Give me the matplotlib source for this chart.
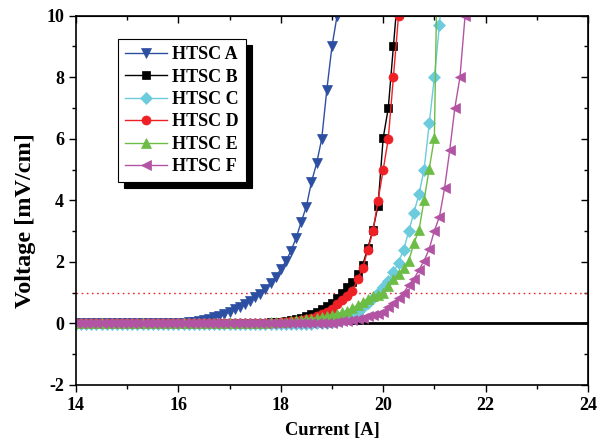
import numpy as np
import matplotlib
matplotlib.use('Agg')
import matplotlib.pyplot as plt
from matplotlib.ticker import MultipleLocator

plt.rcParams['font.family'] = ['Liberation Serif', 'DejaVu Serif']
plt.rcParams['font.weight'] = 'bold'
plt.rcParams['axes.unicode_minus'] = False  # 纵轴负号用 "-"

# 数据：电流步长 0.1 A，电压 mV/cm
cur_A = np.round(np.arange(14.0, 19.15, 0.1), 1)
volt_A = [0, 0, 0, 0, 0, 0, 0, 0, 0, 0,
          0, 0, 0, 0, 0, 0, 0, 0, 0, 0,
          0, 0.02, 0.04, 0.06, 0.09, 0.12, 0.16, 0.20, 0.25, 0.31,
          0.38, 0.46, 0.54, 0.63, 0.74, 0.85, 0.97, 1.12, 1.30, 1.52,
          1.76, 2.02, 2.36, 2.78, 3.30, 3.80, 4.60, 5.20, 6.00, 7.60,
          9.00, 10.00]

cur_B = np.round(np.arange(14.0, 20.35, 0.1), 1)
volt_B = [0, 0, 0, 0, 0, 0, 0, 0, 0, 0,
          0, 0, 0, 0, 0, 0, 0, 0, 0, 0,
          0, 0, 0, 0, 0, 0, 0, 0, 0, 0,
          0, 0, 0, 0, 0, 0.01, 0.02, 0.03, 0.04, 0.05,
          0.06, 0.08, 0.11, 0.14, 0.18, 0.23, 0.30, 0.38, 0.48, 0.57,
          0.68, 0.82, 0.98, 1.17, 1.36, 1.60, 1.90, 2.45, 3.04, 3.83,
          6.02, 7.00, 9.00, 11.00]

cur_C = np.round(np.arange(14.0, 21.25, 0.1), 1)
volt_C = [-0.03, -0.03, -0.03, -0.03, -0.03, -0.03, -0.03, -0.03, -0.03, -0.03,
          -0.03, -0.03, -0.03, -0.03, -0.03, -0.03, -0.03, -0.03, -0.03, -0.03,
          -0.03, -0.03, -0.03, -0.03, -0.03, -0.03, -0.03, -0.03, -0.03, -0.03,
          -0.03, -0.03, -0.03, -0.03, -0.03, -0.03, -0.03, -0.03, -0.03, -0.03,
          -0.03, -0.03, -0.03, -0.03, -0.03, -0.02, -0.01, 0.0, 0.01, 0.03,
          0.05, 0.08, 0.12, 0.18, 0.26, 0.38, 0.52, 0.66, 0.82, 1.00,
          1.17, 1.39, 1.66, 1.98, 2.40, 3.00, 3.60, 4.20, 5.00, 6.50,
          8.00, 9.70, 12.0]

cur_D = np.round(np.arange(14.0, 20.35, 0.1), 1)
volt_D = [0, 0, 0, 0, 0, 0, 0, 0, 0, 0,
          0, 0, 0, 0, 0, 0, 0, 0, 0, 0,
          0, 0, 0, 0, 0, 0, 0, 0, 0, 0,
          0, 0, 0, 0, 0, 0, 0.01, 0.01, 0.02, 0.03,
          0.04, 0.05, 0.07, 0.09, 0.12, 0.15, 0.19, 0.24, 0.30, 0.38,
          0.48, 0.62, 0.76, 0.90, 1.05, 1.44, 1.80, 2.39, 3.00, 3.99,
          4.99, 6.00, 8.00, 10.00]

cur_E = np.round(np.arange(14.0, 21.15, 0.1), 1)
volt_E = [0, 0, 0, 0, 0, 0, 0, 0, 0, 0,
          0, 0, 0, 0, 0, 0, 0, 0, 0, 0,
          0, 0, 0, 0, 0, 0, 0, 0, 0, 0,
          0, 0, 0, 0, 0, 0.01, 0.02, 0.03, 0.04, 0.04,
          0.05, 0.06, 0.08, 0.10, 0.12, 0.14, 0.16, 0.18, 0.21, 0.25,
          0.28, 0.32, 0.37, 0.42, 0.50, 0.60, 0.70, 0.80, 0.88, 0.94,
          1.00, 1.23, 1.44, 1.61, 1.80, 2.04, 2.60, 3.04, 4.01, 5.03,
          6.03, 16.0]

cur_F = np.round(np.arange(14.0, 21.65, 0.1), 1)
volt_F = [0, 0, 0, 0, 0, 0, 0, 0, 0, 0,
          0, 0, 0, 0, 0, 0, 0, 0, 0, 0,
          0, 0, 0, 0, 0, 0, 0, 0, 0, 0,
          0, 0, 0, 0, 0, 0, 0, 0, 0, 0,
          0, 0, 0, 0, 0, 0, 0.01, 0.01, 0.02, 0.02,
          0.03, 0.05, 0.07, 0.09, 0.12, 0.15, 0.19, 0.23, 0.27, 0.31,
          0.36, 0.52, 0.65, 0.83, 0.98, 1.26, 1.44, 1.74, 2.04, 2.42,
          3.01, 3.47, 4.40, 5.62, 7.00, 8.00, 10.00]

labels = ['HTSC A', 'HTSC B', 'HTSC C', 'HTSC D', 'HTSC E', 'HTSC F']

fig = plt.figure(figsize=(6.06, 4.41), dpi=100)
ax = fig.add_axes([0.1254, 0.127, 0.8448, 0.8374])

ax.axhline(0, color='black', lw=2, zorder=1)
ax.axhline(1, color='#e8262b', lw=1, ls=(0, (1.2, 2.5)), zorder=1)

ax.plot(cur_A, volt_A, '-v', color='#2d4fa2', lw=1, ms=7, mew=0.5, label=labels[0])
ax.plot(cur_B, volt_B, '-s', color='black', lw=1, ms=6, mew=0.5, label=labels[1])
ax.plot(cur_C, volt_C, '-D', color='#6ccbdc', lw=1, ms=6, mew=0.5, label=labels[2])
ax.plot(cur_D, volt_D, '-o', color='#ee2025', lw=1, ms=6.5, mew=0.5, label=labels[3])
ax.plot(cur_E, volt_E, '-^', color='#6cbd45', lw=1, ms=7, mew=0.5, label=labels[4])
ax.plot(cur_F, volt_F, '-<', color='#b353a4', lw=1, ms=7, mew=0.5, label=labels[5])

ax.set_xlim(14, 24)
ax.set_ylim(-2, 10)
ax.xaxis.set_major_locator(MultipleLocator(2))
ax.xaxis.set_minor_locator(MultipleLocator(1))
ax.yaxis.set_major_locator(MultipleLocator(2))
ax.yaxis.set_minor_locator(MultipleLocator(1))
ax.tick_params(which='major', direction='out', length=5, width=1, labelsize=13)
ax.tick_params(which='minor', direction='out', length=3, width=1)
for s in ax.spines.values():
    s.set_linewidth(1.2)

# 上、右两侧刻度朝内
top = ax.secondary_xaxis('top')
top.xaxis.set_major_locator(MultipleLocator(2))
top.xaxis.set_minor_locator(MultipleLocator(1))
top.tick_params(which='both', direction='in', labeltop=False, width=1)
top.tick_params(which='major', length=5)
top.tick_params(which='minor', length=3)
right = ax.secondary_yaxis('right')
right.yaxis.set_major_locator(MultipleLocator(2))
right.yaxis.set_minor_locator(MultipleLocator(1))
right.tick_params(which='both', direction='in', labelright=False, width=1)
right.tick_params(which='major', length=5)
right.tick_params(which='minor', length=3)

ax.set_xlabel('Current [A]', fontsize=13.3, fontweight='bold', labelpad=6)
ax.set_ylabel('Voltage [mV/cm]', fontsize=17.5, fontweight='bold')
ax.yaxis.set_label_coords(-0.079, 0.444)

leg = ax.legend(loc='upper left', bbox_to_anchor=(0.082, 0.937), borderaxespad=0,
                fontsize=13, fancybox=False, edgecolor='black', framealpha=1,
                handlelength=2.3, handletextpad=0.3, borderpad=0.4, labelspacing=0.3,
                shadow={'ox': 4.3, 'oy': -4.3, 'color': 'black', 'alpha': 1})
leg.get_frame().set_linewidth(0.8)

fig.savefig('out.png', dpi=100)
